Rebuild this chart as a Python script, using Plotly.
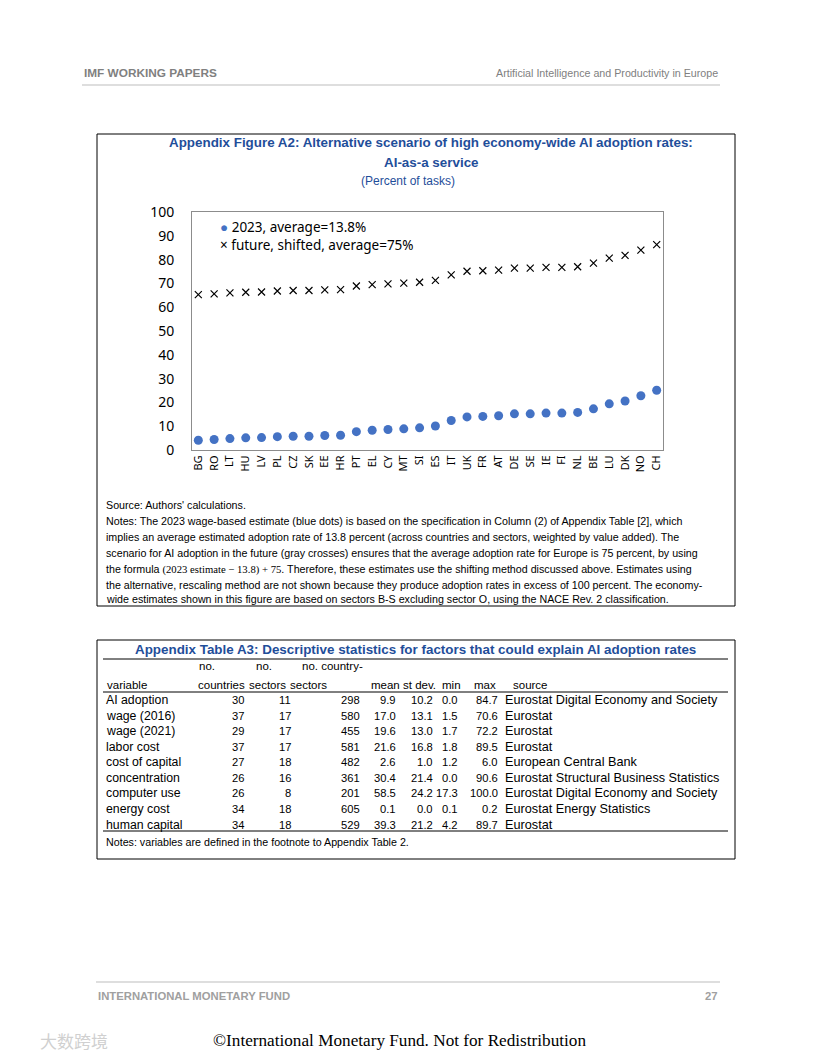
import plotly.graph_objects as go

# ---------------- data ----------------
countries = ["BG", "RO", "LT", "HU", "LV", "PL", "CZ", "SK", "EE", "HR",
             "PT", "EL", "CY", "MT", "SI", "ES", "IT", "UK", "FR", "AT",
             "DE", "SE", "IE", "FI", "NL", "BE", "LU", "DK", "NO", "CH"]
adoption_2023 = [4.1, 4.4, 4.8, 5.1, 5.2, 5.6, 5.8, 5.8, 6.1, 6.2,
                 7.7, 8.3, 8.6, 8.9, 9.3, 10.1, 12.4, 13.9, 14.1, 14.4,
                 15.2, 15.2, 15.5, 15.5, 15.8, 17.3, 19.4, 20.6, 22.8, 25.1]
adoption_future = [65.3, 65.6, 66.0, 66.3, 66.4, 66.8, 67.0, 67.0, 67.3, 67.4,
                   68.9, 69.5, 69.8, 70.1, 70.5, 71.3, 73.6, 75.1, 75.3, 75.6,
                   76.4, 76.4, 76.7, 76.7, 77.0, 78.5, 80.6, 81.8, 84.0, 86.3]
y_ticks = [0, 10, 20, 30, 40, 50, 60, 70, 80, 90, 100]
series_names = ["2023, average=13.8%", "future, shifted, average=75%"]

tbl_header1 = ["", "no.", "no.", "no. country-", "", "", "", "", ""]
tbl_header2 = ["variable", "countries", "sectors", "sectors", "mean", "st dev.", "min", "max", "source"]
tbl_variable = ["AI adoption", "wage (2016)", "wage (2021)", "labor cost", "cost of capital",
                "concentration", "computer use", "energy cost", "human capital"]
tbl_countries = [30, 37, 29, 37, 27, 26, 26, 34, 34]
tbl_sectors = [11, 17, 17, 17, 18, 16, 8, 18, 18]
tbl_cs = [298, 580, 455, 581, 482, 361, 201, 605, 529]
tbl_mean = ["9.9", "17.0", "19.6", "21.6", "2.6", "30.4", "58.5", "0.1", "39.3"]
tbl_sd = ["10.2", "13.1", "13.0", "16.8", "1.0", "21.4", "24.2", "0.0", "21.2"]
tbl_min = ["0.0", "1.5", "1.7", "1.8", "1.2", "0.0", "17.3", "0.1", "4.2"]
tbl_max = ["84.7", "70.6", "72.2", "89.5", "6.0", "90.6", "100.0", "0.2", "89.7"]
tbl_source = ["Eurostat Digital Economy and Society", "Eurostat", "Eurostat", "Eurostat",
              "European Central Bank", "Eurostat Structural Business Statistics",
              "Eurostat Digital Economy and Society", "Eurostat Energy Statistics", "Eurostat"]

notes_lines = [
    "Source: Authors' calculations.",
    "Notes: The 2023 wage-based estimate (blue dots) is based on the specification in Column (2) of Appendix Table [2], which",
    "implies an average estimated adoption rate of 13.8 percent (across countries and sectors, weighted by value added). The",
    "scenario for AI adoption in the future (gray crosses) ensures that the average adoption rate for Europe is 75 percent, by using",
    "the formula <span style=\"font-family:'Liberation Serif'\">(2023 estimate − 13.8) + 75</span>. Therefore, these estimates use the shifting method discussed above. Estimates using",
    "the alternative, rescaling method are not shown because they produce adoption rates in excess of 100 percent. The economy-",
    "wide estimates shown in this figure are based on sectors B-S excluding sector O, using the NACE Rev. 2 classification.",
]

# ---------------- layout helpers ----------------
W, H = 816, 1056
OFF = 8  # page body margin


def px(x):
    return (x - OFF) / W


def py(y):
    return 1 - (y - OFF) / H


SANS = "Liberation Sans, Arial, sans-serif"
CHART = "Noto Sans, Open Sans, sans-serif"
BLUE_T = "#1F4E9A"
DOT = "#4472C4"

fig = go.Figure()
fig.add_trace(go.Scatter(
    x=countries, y=adoption_2023, mode="markers", name=series_names[0], showlegend=False,
    marker=dict(symbol="circle", size=9, color=DOT),
))
fig.add_trace(go.Scatter(
    x=countries, y=adoption_future, mode="markers", name=series_names[1], showlegend=False,
    marker=dict(symbol="x-thin", size=7, color="black", line=dict(color="black", width=1.2)),
))

ann = []


def text(x, y, s, size=10.5, color="black", anchor="left", bold=False, family=SANS):
    if bold:
        s = "<b>" + s + "</b>"
    ann.append(dict(x=px(x), y=py(y), xref="paper", yref="paper", text=s, showarrow=False,
                    xanchor=anchor, yanchor="middle", align=anchor,
                    font=dict(size=size, color=color, family=family)))


# legend (inside plot, upper left)
text(218, 236.5, "<span style='color:%s'>●</span> %s<br>× %s" % (DOT, series_names[0], series_names[1]),
     13.5, family=CHART)

# page header / footer
text(82, 73, "IMF WORKING PAPERS", 11.8, "#808080", bold=True)
text(720, 73, "Artificial Intelligence and Productivity in Europe", 10.7, "#808080", anchor="right")
text(96, 996, "INTERNATIONAL MONETARY FUND", 11.3, "#a0a0a0", bold=True)
text(720, 996, "27", 11.3, "#a0a0a0", anchor="right", bold=True)
text(399, 1040, "©International Monetary Fund. Not for Redistribution", 17.2, "black", anchor="center",
     family="Liberation Serif, Times New Roman, serif")
text(38, 1040, "大数跨境", 17, "#d0d0d0", family="Noto Sans CJK SC")

# figure titles
text(431, 143, "Appendix Figure A2: Alternative scenario of high economy-wide AI adoption rates:", 13.4, BLUE_T, "center", True)
text(431, 162, "AI-as-a service", 13.4, BLUE_T, "center", True)
text(408, 181, "(Percent of tasks)", 12, BLUE_T, "center")

# notes
note_y = [505, 521, 537, 553, 569, 585, 599]
for yy, line in zip(note_y, notes_lines):
    text(104, yy, line, 10.7)

# table
text(415, 649, "Appendix Table A3: Descriptive statistics for factors that could explain AI adoption rates", 13.4, BLUE_T, "center", True)
h1_x = [105, 197, 254, 300, 0, 0, 0, 0, 0]
h2_x = [105, 196, 247, 288, 369, 401, 440, 472, 511]
for x1, x2, h1, h2 in zip(h1_x, h2_x, tbl_header1, tbl_header2):
    if h1:
        text(x1, 666, h1, 11.5)
    text(x2, 685, h2, 11.5)
row_y = [700, 716, 731, 747, 762, 778, 793, 809, 825]
right_x = [246, 293, 362, 398, 435, 460, 500]
for i, yy in enumerate(row_y):
    text(104, yy, tbl_variable[i], 12.3)
    vals = [tbl_countries[i], tbl_sectors[i], tbl_cs[i], tbl_mean[i], tbl_sd[i], tbl_min[i], tbl_max[i]]
    for rx, v in zip(right_x, vals):
        text(rx, yy, str(v), 11.2, anchor="right")
    text(503, yy, tbl_source[i], 12.7)
text(104, 842, "Notes: variables are defined in the footnote to Appendix Table 2.", 10.7)

shapes = [
    dict(type="line", xref="paper", yref="paper", x0=px(82), x1=px(720), y0=py(85), y1=py(85),
         line=dict(color="#bdbdbd", width=1)),
    dict(type="line", xref="paper", yref="paper", x0=px(96), x1=px(720), y0=py(982), y1=py(982),
         line=dict(color="#bdbdbd", width=1)),
    dict(type="rect", xref="paper", yref="paper", x0=px(97), x1=px(735), y0=py(134), y1=py(606),
         line=dict(color="black", width=1)),
    dict(type="rect", xref="paper", yref="paper", x0=px(97), x1=px(735), y0=py(640), y1=py(859),
         line=dict(color="black", width=1)),
]
for ly in [659, 692, 831]:
    shapes.append(dict(type="line", xref="paper", yref="paper", x0=px(103), x1=px(728), y0=py(ly), y1=py(ly),
                       line=dict(color="black", width=1)))

fig.update_layout(
    width=W, height=H, margin=dict(l=0, r=0, t=0, b=0, autoexpand=False),
    paper_bgcolor="white", plot_bgcolor="white",
    annotations=ann, shapes=shapes,
    showlegend=False,
    xaxis=dict(domain=[px(192), px(663)], range=[-0.4, 29.4], type="category", automargin=False,
               showline=True, mirror=True, linecolor="#8c8c8c", linewidth=1,
               showgrid=False, tickangle=-90, ticks="",
               tickfont=dict(family=CHART, size=11, color="black")),
    yaxis=dict(domain=[py(450), py(212)], range=[0, 100], tickvals=y_ticks, automargin=False,
               showline=True, mirror=True, linecolor="#8c8c8c", linewidth=1,
               showgrid=False, zeroline=False, ticks="", ticklabelstandoff=14,
               tickfont=dict(family=CHART, size=14, color="black")),
)

fig.write_html("out.html")
